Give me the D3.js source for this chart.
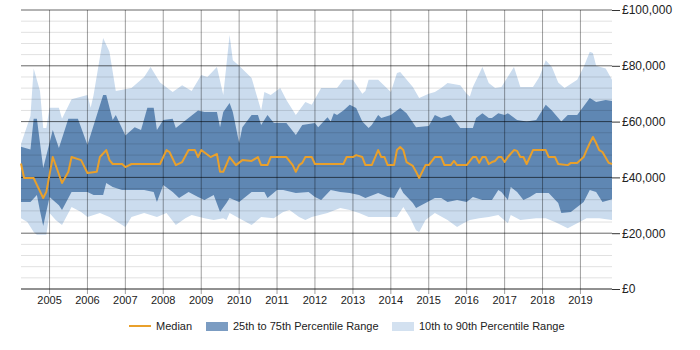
<!DOCTYPE html>
<html>
<head>
<meta charset="utf-8">
<script src="https://cdn.jsdelivr.net/npm/d3@7"></script>
<style>
  body { margin: 0; background: #fff; }
  svg { font-family: "Liberation Sans", Arial, sans-serif; }
</style>
</head>
<body>
<svg id="chart" width="700" height="350"></svg>
<script>
// values in £ thousands
const p90 = [
  ["2004-04", 52], ["2004-07", 62], ["2004-08", 79], ["2004-10", 71], ["2004-11", 57.7], ["2004-12", 57.7],
  ["2005-01", 65], ["2005-04", 65], ["2005-05", 61], ["2005-08", 68], ["2006-01", 69.5], ["2006-02", 65],
  ["2006-03", 69.5], ["2006-06", 90], ["2006-08", 85], ["2006-10", 71], ["2007-03", 72], ["2007-07", 76],
  ["2007-09", 79.6], ["2007-12", 74], ["2008-04", 70.6], ["2008-07", 73], ["2008-10", 71], ["2009-01", 76.7],
  ["2009-03", 76], ["2009-06", 79.6], ["2009-08", 69.5], ["2009-10", 91], ["2009-11", 82], ["2010-01", 80],
  ["2010-05", 75.6], ["2010-08", 64], ["2010-09", 70.6], ["2010-11", 69.5], ["2011-02", 72], ["2011-04", 67.7],
  ["2011-07", 62.4], ["2011-10", 67], ["2011-12", 66], ["2012-02", 70.2], ["2012-03", 72], ["2012-08", 72],
  ["2012-10", 75], ["2013-01", 75], ["2013-04", 70], ["2013-05", 71], ["2013-06", 75], ["2013-09", 75],
  ["2014-01", 70.6], ["2014-03", 77.4], ["2014-04", 77.8], ["2014-08", 72.4], ["2014-10", 68.5], ["2015-01", 70],
  ["2015-03", 70.6], ["2015-05", 72], ["2015-07", 73.8], ["2015-11", 73], ["2016-01", 70], ["2016-02", 69],
  ["2016-03", 72.4], ["2016-06", 79.6], ["2016-08", 73.8], ["2016-10", 72], ["2016-12", 72.4], ["2017-04", 79.6],
  ["2017-06", 72.4], ["2017-10", 72.4], ["2017-12", 76], ["2018-02", 82], ["2018-04", 79.6], ["2018-06", 74],
  ["2018-08", 72], ["2018-12", 75], ["2019-02", 79.6], ["2019-04", 85], ["2019-05", 84.6], ["2019-06", 80],
  ["2019-09", 79], ["2019-11", 75]
];

const p75 = [
  ["2004-04", 51], ["2004-07", 50], ["2004-08", 61], ["2004-09", 61], ["2004-11", 43.4], ["2005-02", 57],
  ["2005-04", 50.5], ["2005-07", 61], ["2005-10", 61], ["2006-01", 51.6], ["2006-06", 69.5], ["2006-07", 69.5],
  ["2006-09", 60.6], ["2006-10", 62.4], ["2007-01", 55], ["2007-04", 58], ["2007-06", 57], ["2007-08", 65],
  ["2007-10", 65], ["2007-11", 57], ["2008-01", 60.6], ["2008-04", 61], ["2008-05", 57.7], ["2008-07", 59.5],
  ["2008-12", 64], ["2009-02", 63.4], ["2009-06", 63.4], ["2009-07", 58], ["2009-08", 63.4], ["2009-10", 66.7],
  ["2009-11", 63.4], ["2010-01", 52.3], ["2010-02", 58], ["2010-05", 62.4], ["2010-07", 62.4], ["2010-08", 58.8],
  ["2010-10", 62.4], ["2010-12", 59.5], ["2011-04", 59.5], ["2011-07", 55.2], ["2011-09", 58.8], ["2012-01", 59.5],
  ["2012-02", 58], ["2012-05", 61.6], ["2012-06", 60], ["2012-07", 63], ["2012-08", 62.4], ["2012-10", 64],
  ["2012-12", 66], ["2013-02", 64.9], ["2013-04", 60], ["2013-06", 57.7], ["2013-07", 58.8], ["2013-09", 62.4],
  ["2013-10", 61.3], ["2014-01", 62.4], ["2014-04", 64.9], ["2014-06", 63], ["2014-09", 58], ["2015-01", 58.4],
  ["2015-03", 62.4], ["2015-05", 61.3], ["2015-08", 62.4], ["2015-11", 57.7], ["2016-03", 57.7], ["2016-04", 61.3],
  ["2016-06", 63], ["2016-08", 61.3], ["2016-09", 61.3], ["2016-11", 63], ["2017-01", 62.4], ["2017-02", 63],
  ["2017-05", 60.6], ["2017-08", 60], ["2017-11", 60.6], ["2018-02", 66], ["2018-04", 64], ["2018-07", 60],
  ["2018-09", 62.4], ["2018-12", 62.4], ["2019-04", 68.5], ["2019-06", 67], ["2019-09", 67.7], ["2019-11", 67.4]
];

const p25 = [
  ["2004-04", 31.2], ["2004-07", 31.2], ["2004-09", 33.7], ["2004-10", 28], ["2004-11", 22.6], ["2005-01", 33],
  ["2005-04", 30], ["2005-05", 28.3], ["2005-08", 34.8], ["2006-01", 34.8], ["2006-03", 33.7], ["2006-06", 33.7],
  ["2006-07", 38], ["2006-09", 36.6], ["2006-12", 35.5], ["2007-03", 35.5], ["2007-07", 35.5], ["2007-10", 34.8],
  ["2007-11", 31.2], ["2008-01", 37.3], ["2008-04", 34.8], ["2008-06", 32.6], ["2008-09", 34.8], ["2008-12", 33],
  ["2009-02", 31.9], ["2009-05", 33.7], ["2009-07", 27.6], ["2009-09", 30.8], ["2009-10", 32.6], ["2010-01", 31.2],
  ["2010-05", 34.8], ["2010-09", 34.8], ["2010-10", 32.6], ["2011-01", 35.5], ["2011-03", 35.5], ["2011-07", 34.4],
  ["2011-11", 34.8], ["2012-01", 33], ["2012-03", 31.9], ["2012-06", 35.5], ["2012-09", 34.8], ["2012-12", 34.4],
  ["2013-03", 33.7], ["2013-05", 32.6], ["2013-09", 34.4], ["2013-12", 33], ["2014-02", 32.6], ["2014-04", 36.6],
  ["2014-05", 34.4], ["2014-08", 30.8], ["2014-09", 29], ["2014-12", 30.8], ["2015-03", 32.6], ["2015-05", 32.6],
  ["2015-07", 31.2], ["2015-10", 31.9], ["2016-01", 31.2], ["2016-03", 33], ["2016-06", 31.9], ["2016-09", 31.9],
  ["2016-11", 35.5], ["2016-12", 34.8], ["2017-02", 31.9], ["2017-03", 36.6], ["2017-05", 34.8], ["2017-07", 31.9],
  ["2017-09", 33], ["2017-11", 34.4], ["2018-03", 34.4], ["2018-06", 30.8], ["2018-07", 27.2], ["2018-10", 27.6],
  ["2019-02", 31.2], ["2019-04", 35.5], ["2019-06", 34.8], ["2019-08", 31.2], ["2019-11", 32.2]
];

const p10 = [
  ["2004-04", 25.4], ["2004-06", 24], ["2004-08", 20.4], ["2004-09", 19.4], ["2004-12", 19.4], ["2005-01", 27.2],
  ["2005-03", 24.7], ["2005-05", 22.9], ["2005-08", 29.4], ["2005-11", 27.6], ["2006-01", 25.8], ["2006-05", 27.2],
  ["2006-08", 25.8], ["2007-01", 22.2], ["2007-03", 25.8], ["2007-07", 27.2], ["2007-11", 25.8], ["2008-02", 27.2],
  ["2008-05", 22.9], ["2008-08", 25.4], ["2008-10", 26.5], ["2009-02", 25.4], ["2009-05", 24.7], ["2009-08", 25.4],
  ["2009-09", 24.7], ["2009-10", 27.2], ["2010-01", 25.4], ["2010-05", 22.9], ["2010-08", 25.8], ["2010-12", 25.4],
  ["2011-03", 27.6], ["2011-05", 28.3], ["2011-08", 25.8], ["2011-10", 24.7], ["2011-12", 25.8], ["2012-05", 27.2],
  ["2012-09", 29], ["2012-12", 28.3], ["2013-03", 27.2], ["2013-06", 25.8], ["2013-10", 25.8], ["2014-03", 25.8],
  ["2014-05", 29.4], ["2014-07", 25.8], ["2014-09", 21.1], ["2014-10", 20.4], ["2014-12", 24.7], ["2015-03", 27.2],
  ["2015-07", 24.7], ["2015-10", 22.2], ["2015-12", 23.6], ["2016-02", 24.7], ["2016-05", 25.4], ["2016-08", 25.8],
  ["2016-11", 26.5], ["2017-02", 23.6], ["2017-03", 26.5], ["2017-06", 24.7], ["2017-11", 25.4], ["2018-02", 25.4],
  ["2018-05", 24], ["2018-09", 21.8], ["2018-12", 23.6], ["2019-03", 25.4], ["2019-07", 25.4], ["2019-11", 24.7]
];

const median = [
  ["2004-04", 45], ["2004-05", 39.8], ["2004-08", 39.8], ["2004-09", 37.3], ["2004-11", 32.6], ["2004-12", 34.8],
  ["2005-02", 47.3], ["2005-05", 38], ["2005-07", 42], ["2005-08", 47.3], ["2005-11", 46.2], ["2006-01", 41.6],
  ["2006-04", 42], ["2006-05", 47.3], ["2006-07", 49.8], ["2006-08", 46.2], ["2006-09", 44.8], ["2006-12", 44.8],
  ["2007-01", 43.7], ["2007-03", 44.8], ["2007-12", 44.8], ["2008-02", 49.8], ["2008-03", 49.1], ["2008-05", 44.4],
  ["2008-07", 45.5], ["2008-09", 49.8], ["2008-11", 49.8], ["2008-12", 47.3], ["2009-01", 49.8], ["2009-04", 47.3],
  ["2009-06", 48.4], ["2009-07", 42], ["2009-08", 42], ["2009-10", 47.3], ["2009-12", 44.4], ["2010-02", 46.2],
  ["2010-05", 45.9], ["2010-07", 47.3], ["2010-08", 44.4], ["2010-10", 44.4], ["2010-11", 47.3], ["2011-04", 47.3],
  ["2011-06", 44.4], ["2011-07", 42], ["2011-08", 44.4], ["2011-09", 45.2], ["2011-10", 47.3], ["2011-12", 47.3],
  ["2012-01", 44.8], ["2012-10", 44.8], ["2012-11", 47.3], ["2013-01", 47.3], ["2013-02", 48], ["2013-04", 47.3],
  ["2013-05", 44.4], ["2013-07", 44.4], ["2013-09", 49.8], ["2013-10", 47.3], ["2013-11", 47.3], ["2013-12", 44.4],
  ["2014-02", 44.4], ["2014-03", 49.8], ["2014-04", 50.9], ["2014-05", 49.8], ["2014-06", 45.5], ["2014-08", 44.1],
  ["2014-09", 42], ["2014-10", 39.8], ["2014-12", 44.4], ["2015-01", 44.4], ["2015-03", 47.3], ["2015-05", 47.3],
  ["2015-06", 44.4], ["2015-08", 44.4], ["2015-09", 45.9], ["2015-10", 44.4], ["2016-01", 44.4], ["2016-03", 47.3],
  ["2016-04", 47.3], ["2016-05", 45.2], ["2016-06", 47.3], ["2016-07", 47.3], ["2016-08", 44.8], ["2016-09", 45.5],
  ["2016-10", 45.9], ["2016-11", 47.3], ["2016-12", 47.3], ["2017-01", 45.5], ["2017-02", 47.3], ["2017-04", 49.8],
  ["2017-05", 49.5], ["2017-06", 47.3], ["2017-07", 47.3], ["2017-08", 44.8], ["2017-10", 49.8], ["2018-02", 49.8],
  ["2018-03", 47.3], ["2018-05", 47.3], ["2018-06", 44.8], ["2018-09", 44.4], ["2018-10", 45.2], ["2018-12", 45.2],
  ["2019-02", 47.3], ["2019-03", 49.8], ["2019-04", 52.3], ["2019-05", 54.5], ["2019-06", 52.3], ["2019-07", 49.8],
  ["2019-08", 49.1], ["2019-10", 45.2], ["2019-11", 44.8]
];

const yTicks = [0, 20000, 40000, 60000, 80000, 100000];
const legendItems = ["Median", "25th to 75th Percentile Range", "10th to 90th Percentile Range"];

function init() {
    const svg = d3.select("#chart");
    const left = 21, right = 612, top = 10, bottom = 289;

    const parseMonth = d3.timeParse("%Y-%m");
    const toPoints = arr => arr.map(d => ({ date: parseMonth(d[0]), value: d[1] * 1000 }));

    const x = d3.scaleTime()
        .domain([parseMonth("2004-04"), parseMonth("2019-11")])
        .range([left, right]);
    const y = d3.scaleLinear().domain([0, 100000]).range([bottom, top]);

    const line = d3.line().x(d => x(d.date)).y(d => y(d.value));

    // band = upper edge forward, lower edge back
    function band(upper, lower) {
        const up = toPoints(upper), low = toPoints(lower).reverse();
        return line(up.concat(low)) + "Z";
    }

    svg.append("path").attr("d", band(p90, p10)).attr("fill", "#cbdcee");
    svg.append("path").attr("d", band(p75, p25)).attr("fill", "#5f87b3");

    // minor grid
    svg.append("g")
        .selectAll("line")
        .data(d3.range(4000, 100000, 4000).filter(v => v % 20000 !== 0))
        .join("line")
        .attr("x1", left).attr("x2", right)
        .attr("y1", d => y(d)).attr("y2", d => y(d))
        .attr("stroke", "rgba(0,0,0,0.12)");

    // year lines
    const years = x.ticks(d3.timeYear.every(1));
    svg.append("g")
        .selectAll("line")
        .data(years)
        .join("line")
        .attr("x1", d => x(d)).attr("x2", d => x(d))
        .attr("y1", top).attr("y2", bottom + 5)
        .attr("stroke", "rgba(0,0,0,0.38)");

    // major grid + right axis
    const yAxis = svg.append("g")
        .attr("transform", "translate(" + right + ",0)")
        .call(d3.axisRight(y).tickValues(yTicks).tickSize(8).tickPadding(2)
            .tickFormat(d => "£" + d3.format(",")(d)));
    yAxis.select(".domain").remove();
    yAxis.selectAll(".tick line").attr("stroke", "#333");
    yAxis.selectAll("text").attr("font-size", "12px").attr("fill", "#222")
        .attr("font-family", "'Liberation Sans', Arial, sans-serif");

    svg.append("g")
        .selectAll("line")
        .data(yTicks)
        .join("line")
        .attr("x1", left).attr("x2", right)
        .attr("y1", d => y(d)).attr("y2", d => y(d))
        .attr("stroke", d => d === 0 ? "#222" : "rgba(0,0,0,0.6)");

    // year labels
    svg.append("g")
        .selectAll("text")
        .data(years)
        .join("text")
        .attr("x", d => x(d))
        .attr("y", 304)
        .attr("text-anchor", "middle")
        .attr("font-size", "11px")
        .attr("fill", "#222")
        .text(d3.timeFormat("%Y"));

    // median
    svg.append("path")
        .attr("d", line(toPoints(median)))
        .attr("fill", "none")
        .attr("stroke", "#e9a02b")
        .attr("stroke-width", 2)
        .attr("stroke-linejoin", "round");

    // legend
    const lg = svg.append("g").attr("font-size", "11px").attr("fill", "#222");
    lg.append("line").attr("x1", 129).attr("x2", 151).attr("y1", 326).attr("y2", 326)
        .attr("stroke", "#e9a02b").attr("stroke-width", 2);
    lg.append("text").attr("x", 156).attr("y", 330).text(legendItems[0]);
    lg.append("rect").attr("x", 206).attr("y", 322).attr("width", 22).attr("height", 9).attr("fill", "#7b9cc2");
    lg.append("text").attr("x", 233).attr("y", 330).text(legendItems[1]);
    lg.append("rect").attr("x", 392).attr("y", 322).attr("width", 22).attr("height", 9).attr("fill", "#d3e1f0");
    lg.append("text").attr("x", 419).attr("y", 330).text(legendItems[2]);
}

window.onload = init;
</script>
</body>
</html>
